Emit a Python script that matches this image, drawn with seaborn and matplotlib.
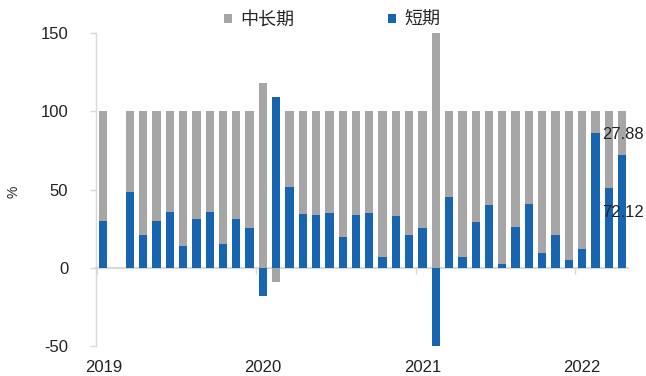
import numpy as np
import pandas as pd
import matplotlib
matplotlib.use("Agg")
import matplotlib.pyplot as plt
import seaborn as sns
from matplotlib.patches import Patch

# ---- data ----
months = list(pd.date_range("2019-01-01", periods=40, freq="MS").strftime("%Y-%m"))
short_term = [30.0, np.nan, 48.4, 20.9, 29.8, 35.5, 14.0, 30.9, 35.5, 15.2, 31.3, 25.6,
              -18.0, 109.0, 51.8, 34.5, 33.8, 35.1, 19.9, 33.8, 35.1, 6.6, 33.2, 20.9,
              25.6, -50.0, 45.5, 7.0, 29.4, 40.2, 2.1, 26.2, 40.8, 9.3, 20.9, 4.7,
              12.3, 86.3, 50.7, 72.12]
mid_long = [70.0, np.nan, 51.6, 79.1, 70.2, 64.5, 86.0, 69.1, 64.5, 84.8, 68.7, 74.4,
            118.0, -9.0, 48.2, 65.5, 66.2, 64.9, 80.1, 66.2, 64.9, 93.4, 66.8, 79.1,
            74.4, 150.0, 54.5, 93.0, 70.6, 59.8, 97.9, 73.8, 59.2, 90.7, 79.1, 95.3,
            87.7, 13.7, 49.3, 27.88]
year_labels = ["2019", "2020", "2021", "2022"]
year_positions = [0, 12, 24, 36]
series_names = ["中长期", "短期"]
last_labels = ["27.88", "72.12"]

BLUE = "#1764B0"
GRAY = "#A6A6A6"
AXC = "#D9D9D9"

s = np.array(short_term, dtype=float)
m = np.array(mid_long, dtype=float)
# Excel-style stacking: same-sign segments stack, opposite-sign start from 0
gray_top = np.where(np.sign(s) == np.sign(m), s + m, m)
df = pd.DataFrame({"month": months, "short": s, "gray_top": gray_top})

sns.set_theme(style="white")
plt.rcParams["font.family"] = ["Liberation Sans", "Noto Sans CJK SC", "DejaVu Sans"]
plt.rcParams["axes.unicode_minus"] = False

fig = plt.figure(figsize=(6.46, 3.76), dpi=100)
ax = fig.add_axes([96 / 646, 30 / 376, 532 / 646, 313 / 376])

sns.barplot(data=df, x="month", y="gray_top", order=months, color=GRAY,
            saturation=1, width=0.62, linewidth=0, errorbar=None, ax=ax)
sns.barplot(data=df, x="month", y="short", order=months, color=BLUE,
            saturation=1, width=0.62, linewidth=0, errorbar=None, ax=ax)

ax.set_xlim(-0.55, 39.45)
ax.set_ylim(-50, 150)
ax.set_yticks([-50, 0, 50, 100, 150])
ax.set_xticks(year_positions, year_labels)
ax.set_xlabel("")
ax.set_ylabel("%", fontsize=10, rotation=90)
ax.yaxis.set_label_coords((20 - 96) / 532, (346 - 192) / 313)

for sp in ["top", "right", "bottom"]:
    ax.spines[sp].set_visible(False)
ax.spines["left"].set_color(AXC)
ax.spines["left"].set_linewidth(1.0)

ax.tick_params(axis="y", length=4, width=1, color=AXC, pad=16, labelsize=12,
               labelcolor="#222222", left=True)
ax.tick_params(axis="x", length=0, pad=10, labelsize=12, labelcolor="#222222")

# zero line with year-boundary ticks
sec = ax.secondary_xaxis(0.25)
sec.set_xticks([-0.5, 11.5, 23.5, 35.5])
sec.tick_params(axis="x", length=4, width=1, color=AXC, labelbottom=False, direction="out")
sec.spines["bottom"].set_color(AXC)
sec.spines["bottom"].set_linewidth(1.6)

ax.text(37.52, 85.4, last_labels[0], ha="left", va="center", fontsize=12, color="#222222")
ax.text(37.52, 35.6, last_labels[1], ha="left", va="center", fontsize=12, color="#222222")

handles = [Patch(facecolor=GRAY, edgecolor="none", label=series_names[0]),
           Patch(facecolor=BLUE, edgecolor="none", label=series_names[1])]
fig.legend(handles=handles, loc="center left", bbox_to_anchor=(224 / 646, 1 - 20 / 376),
           ncol=2, frameon=False, handlelength=0.45, handleheight=0.45,
           handletextpad=0.45, columnspacing=5.2, borderaxespad=0, borderpad=0,
           prop={"family": ["Noto Sans CJK SC"], "size": 13})

fig.savefig("out.png", dpi=100)
